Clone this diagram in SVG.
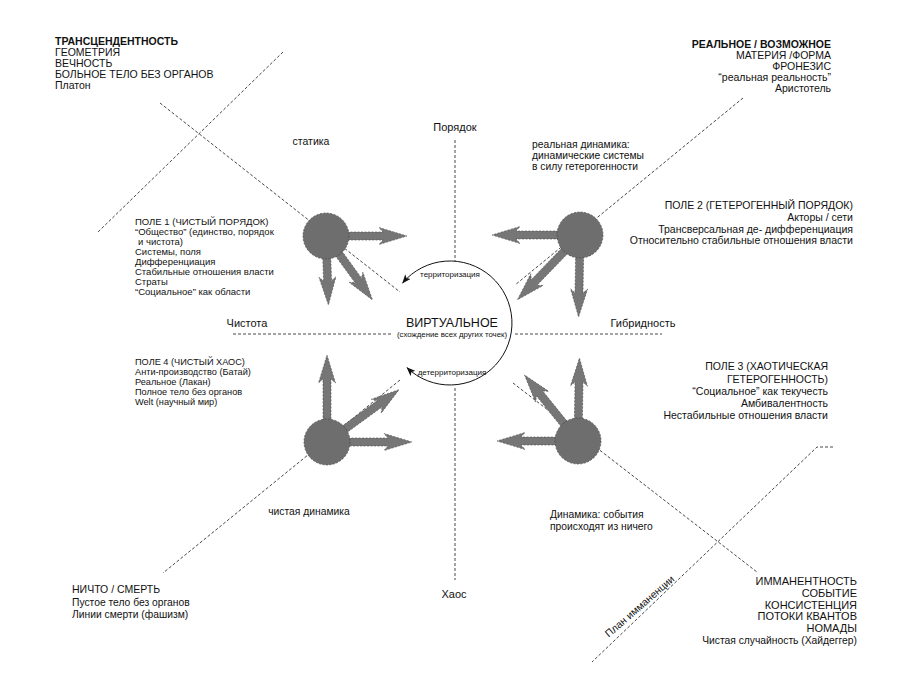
<svg xmlns="http://www.w3.org/2000/svg" width="900" height="679" viewBox="0 0 900 679">
<style>
text{font-family:"Liberation Sans",Arial,"Noto Sans",sans-serif;fill:#111;}
.t10{font-size:10.3px;}
.t105{font-size:10.5px;}
.t9{font-size:9.5px;}
.t9b{font-size:9.2px;}
.t11{font-size:11px;}
.b{font-weight:bold;}
.r{text-anchor:end;}
.m{text-anchor:middle;}
.dl{fill:none;stroke:#333;stroke-width:0.9;stroke-dasharray:3 2;}
.node{fill:#6e6e6e;stroke:#444;stroke-width:0.7;stroke-dasharray:2 1.5;}
.arr{fill:#767676;stroke:#4a4a4a;stroke-width:0.6;stroke-dasharray:2 1.5;}
.arc{fill:none;stroke:#111;stroke-width:1;}
</style>
<defs>
<marker id="ah" viewBox="0 0 10 8" refX="9.5" refY="4" markerWidth="9" markerHeight="7.5" markerUnits="userSpaceOnUse" orient="auto-start-reverse">
<path d="M0,0 L10,4 L0,8 L2.5,4 Z" fill="#111"/>
</marker>
</defs>
<rect width="900" height="679" fill="#fff"/>

<g id="connectors">
<line class="dl" x1="283" y1="52" x2="98" y2="232"/>
<line class="dl" x1="160" y1="103" x2="400" y2="292"/>
<line class="dl" x1="743" y1="98" x2="515" y2="285"/>
<line class="dl" x1="400" y1="380" x2="163" y2="573"/>
<line class="dl" x1="513" y1="383" x2="757" y2="572"/>
<polyline class="dl" points="833,447 817,447 592,662"/>
<line class="dl" x1="455" y1="140" x2="455" y2="261"/>
<line class="dl" x1="455" y1="388" x2="455" y2="580"/>
<line class="dl" x1="233" y1="334" x2="393" y2="334"/>
<line class="dl" x1="515" y1="334" x2="662" y2="334"/>
<path class="arc" d="M402.5,283.1 A62,62 0 1 1 406.9,367.6" marker-start="url(#ah)" marker-end="url(#ah)"/>
</g>

<g id="labels">
<text class="t105 b" x="55" y="45">ТРАНСЦЕНДЕНТНОСТЬ</text>
<text class="t105" x="55" y="56">ГЕОМЕТРИЯ</text>
<text class="t105" x="55" y="67">ВЕЧНОСТЬ</text>
<text class="t105" x="55" y="78">БОЛЬНОЕ ТЕЛО БЕЗ ОРГАНОВ</text>
<text class="t105" x="55" y="89">Платон</text>

<text class="t105 b r" x="831" y="48">РЕАЛЬНОЕ / ВОЗМОЖНОЕ</text>
<text class="t105 r" x="831" y="59">МАТЕРИЯ /ФОРМА</text>
<text class="t105 r" x="831" y="70">ФРОНЕЗИС</text>
<text class="t105 r" x="831" y="81">“реальная реальность”</text>
<text class="t105 r" x="831" y="92">Аристотель</text>

<text class="t105 m" x="311" y="145">статика</text>
<text class="t11 m" x="455" y="131">Порядок</text>
<text class="t10" x="532" y="148">реальная динамика:</text>
<text class="t10" x="532" y="159">динамические системы</text>
<text class="t10" x="532" y="170">в силу гетерогенности</text>

<text class="t11 m" x="247" y="327">Чистота</text>
<text class="t11 m" x="643" y="327">Гибридность</text>
<text class="m" x="452" y="327" style="font-size:12.5px">ВИРТУАЛЬНОЕ</text>
<text class="m" x="452" y="337" style="font-size:7.8px">(схождение всех других точек)</text>
<text class="m" x="450" y="277" style="font-size:8px">территоризация</text>
<text class="m" x="452" y="375" style="font-size:8px">детерриторизация</text>

<text class="t10 m" x="309" y="515">чистая динамика</text>
<text class="t10" x="550" y="518">Динамика: события</text>
<text class="t10" x="550" y="530">происходят из ничего</text>

<text class="t105" x="72" y="593">НИЧТО / СМЕРТЬ</text>
<text class="t10" x="72" y="606">Пустое тело без органов</text>
<text class="t10" x="72" y="618">Линии смерти (фашизм)</text>
<text class="t11 m" x="454" y="598">Хаос</text>

<text class="t11 r" x="857" y="585">ИММАНЕНТНОСТЬ</text>
<text class="t11 r" x="857" y="597">СОБЫТИЕ</text>
<text class="t11 r" x="857" y="608.5">КОНСИСТЕНЦИЯ</text>
<text class="t11 r" x="857" y="620">ПОТОКИ КВАНТОВ</text>
<text class="t11 r" x="857" y="632">НОМАДЫ</text>
<text class="t10 r" x="857" y="644">Чистая случайность (Хайдеггер)</text>

<text class="t10 m" transform="translate(642,609) rotate(-41)">План имманенции</text>
</g>

<g id="node1">
<path class="arr" transform="translate(326,236) rotate(0)" d="M0,-4 H57 L53,-8.5 L81,0 L53,8.5 L57,4 H0 Z"/>
<path class="arr" transform="translate(326,236) rotate(88)" d="M0,-4 H45 L41,-8.5 L69,0 L41,8.5 L45,4 H0 Z"/>
<path class="arr" transform="translate(326,236) rotate(54)" d="M0,-4 H55 L51,-8.5 L79,0 L51,8.5 L55,4 H0 Z"/>
<circle class="node" cx="326" cy="236" r="23"/>
<text class="t9" x="135" y="225">ПОЛЕ 1 (ЧИСТЫЙ ПОРЯДОК)</text>
<text class="t9" x="135" y="235">“Общество” (единство, порядок</text>
<text class="t9" x="138" y="245">и чистота)</text>
<text class="t9" x="135" y="255">Системы, поля</text>
<text class="t9" x="135" y="265">Дифференциация</text>
<text class="t9" x="135" y="275">Стабильные отношения власти</text>
<text class="t9" x="135" y="285">Страты</text>
<text class="t9" x="135" y="295">“Социальное” как области</text>
</g>

<g id="node2">
<path class="arr" transform="translate(580,235) rotate(180)" d="M0,-4 H64 L60,-8.5 L88,0 L60,8.5 L64,4 H0 Z"/>
<path class="arr" transform="translate(580,235) rotate(91)" d="M0,-4 H58 L54,-8.5 L82,0 L54,8.5 L58,4 H0 Z"/>
<path class="arr" transform="translate(580,235) rotate(134)" d="M0,-4 H66 L62,-8.5 L90,0 L62,8.5 L66,4 H0 Z"/>
<circle class="node" cx="580" cy="235" r="23"/>
<text class="r" x="853" y="209" style="font-size:10.5px">ПОЛЕ 2 (ГЕТЕРОГЕННЫЙ ПОРЯДОК)</text>
<text class="r" x="853" y="221" style="font-size:10.5px">Акторы / сети</text>
<text class="r" x="853" y="232.5" style="font-size:10.5px">Трансверсальная де- дифференциация</text>
<text class="r" x="853" y="244" style="font-size:10.5px">Относительно стабильные отношения власти</text>
</g>

<g id="node3">
<path class="arr" transform="translate(578,441) rotate(180)" d="M0,-4 H57 L53,-8.5 L81,0 L53,8.5 L57,4 H0 Z"/>
<path class="arr" transform="translate(578,441) rotate(-89)" d="M0,-4 H59 L55,-8.5 L83,0 L55,8.5 L59,4 H0 Z"/>
<path class="arr" transform="translate(578,441) rotate(-129)" d="M0,-4 H61 L57,-8.5 L85,0 L57,8.5 L61,4 H0 Z"/>
<circle class="node" cx="578" cy="441" r="23"/>
<text class="t105 r" x="828" y="370">ПОЛЕ 3 (ХАОТИЧЕСКАЯ</text>
<text class="t105 r" x="828" y="383">ГЕТЕРОГЕННОСТЬ)</text>
<text class="t105 r" x="828" y="395">“Социальное” как текучесть</text>
<text class="t105 r" x="828" y="407">Амбивалентность</text>
<text class="t105 r" x="828" y="419">Нестабильные отношения власти</text>
</g>

<g id="node4">
<path class="arr" transform="translate(327,442) rotate(-90)" d="M0,-4 H63 L59,-8.5 L87,0 L59,8.5 L63,4 H0 Z"/>
<path class="arr" transform="translate(327,442) rotate(-36)" d="M0,-4 H65 L61,-8.5 L89,0 L61,8.5 L65,4 H0 Z"/>
<path class="arr" transform="translate(327,442) rotate(0)" d="M0,-4 H61 L57,-8.5 L85,0 L57,8.5 L61,4 H0 Z"/>
<circle class="node" cx="327" cy="442" r="23"/>
<text class="t9b" x="135" y="365">ПОЛЕ 4 (ЧИСТЫЙ ХАОС)</text>
<text class="t9b" x="135" y="375">Анти-производство (Батай)</text>
<text class="t9b" x="135" y="385">Реальное (Лакан)</text>
<text class="t9b" x="135" y="395">Полное тело без органов</text>
<text class="t9b" x="135" y="405">Welt (научный мир)</text>
</g>
</svg>
